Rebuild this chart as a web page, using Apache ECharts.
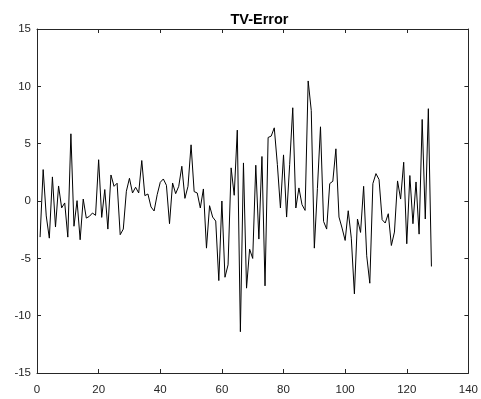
<!DOCTYPE html>
<html>
<head>
<meta charset="utf-8">
<script src="https://cdn.jsdelivr.net/npm/echarts@6/dist/echarts.min.js"></script>
<style>
  html, body { margin: 0; padding: 0; background: #fff; }
  #chart { width: 481px; height: 399px; }
</style>
</head>
<body>
<div id="chart"></div>
<script>
// TV reconstruction error per sample
const errorValues = [
  -3.15, 2.74, -1.3, -3.24, 2.1, -2.27, 1.31, -0.6, -0.17, -3.15,
  5.86, -2.2, 0.03, -3.38, 0.17, -1.49, -1.34, -1.05, -1.25, 3.6,
  -1.43, 1.0, -2.45, 2.27, 1.28, 1.55, -2.94, -2.45, 0.85, 1.98,
  0.7, 1.2, 0.7, 3.53, 0.47, 0.61, -0.52, -0.87, 0.55, 1.63,
  1.92, 1.37, -1.98, 1.57, 0.64, 1.28, 3.03, 0.23, 1.28, 4.9,
  0.82, 0.7, -0.61, 1.05, -4.11, -0.41, -1.4, -1.75, -6.94, 0.0,
  -6.65, -5.57, 2.89, 0.5, 6.18, -11.4, 3.32, -7.6, -4.2, -5.01,
  3.12, -3.32, 3.88, -7.4, 5.54, 5.66, 6.38, 3.2, -0.61, 4.02,
  -1.4, 3.2, 8.13, -0.61, 1.14, -0.32, -0.82, 10.47, 7.9, -4.11,
  1.1, 6.47, -1.78, -2.45, 1.52, 1.72, 4.55, -1.4, -2.36, -3.44,
  -0.85, -3.24, -8.1, -1.57, -2.74, 1.28, -4.78, -7.17, 1.52, 2.39,
  1.87, -1.63, -1.92, -1.11, -3.88, -2.71, 1.75, 0.17, 3.38, -3.73,
  2.22, -1.98, 1.66, -2.89, 7.11, -1.57, 8.05, -5.71
];
const xTicks = [0, 20, 40, 60, 80, 100, 120, 140];
const yTicks = [-15, -10, -5, 0, 5, 10, 15];
const chartTitle = 'TV-Error';

const axisColor = '#262626';
const labelFont = { fontFamily: 'Liberation Sans, Arial, sans-serif', fontSize: 11.5, color: axisColor };

// sample number runs from 1 to N
const points = errorValues.map((v, i) => [i + 1, v]);

const xStep = xTicks[1] - xTicks[0];
const yStep = yTicks[1] - yTicks[0];

function xAxisDef(pos, labels) {
  return {
    type: 'value', position: pos,
    min: xTicks[0], max: xTicks[xTicks.length - 1], interval: xStep,
    axisLine: { show: true, onZero: false, lineStyle: { color: axisColor, width: 1 } },
    axisTick: { show: true, inside: true, length: 4, lineStyle: { color: axisColor, width: 1 } },
    axisLabel: Object.assign({ show: labels, margin: 11 }, labelFont),
    splitLine: { show: false }
  };
}
function yAxisDef(pos, labels) {
  return {
    type: 'value', position: pos,
    min: yTicks[0], max: yTicks[yTicks.length - 1], interval: yStep,
    axisLine: { show: true, onZero: false, lineStyle: { color: axisColor, width: 1 } },
    axisTick: { show: true, inside: true, length: 4, lineStyle: { color: axisColor, width: 1 } },
    axisLabel: Object.assign({ show: labels, margin: 6 }, labelFont),
    splitLine: { show: false }
  };
}

const chart = echarts.init(document.getElementById('chart'), null, { renderer: 'canvas' });
chart.setOption({
  animation: false,
  backgroundColor: '#ffffff',
  title: {
    text: chartTitle,
    left: 254.5, top: 7, textAlign: 'center',
    textStyle: { fontFamily: 'Liberation Sans, Arial, sans-serif', fontSize: 14.5, fontWeight: 'bold', color: '#000' }
  },
  grid: { left: 37, right: 9, top: 29, bottom: 26, containLabel: false },
  xAxis: [xAxisDef('bottom', true), xAxisDef('top', false)],
  yAxis: [yAxisDef('left', true), yAxisDef('right', false)],
  series: [{
    type: 'line',
    data: points,
    xAxisIndex: 0, yAxisIndex: 0,
    showSymbol: false,
    lineStyle: { color: '#000', width: 1 },
    z: 3
  }]
});
</script>
</body>
</html>
